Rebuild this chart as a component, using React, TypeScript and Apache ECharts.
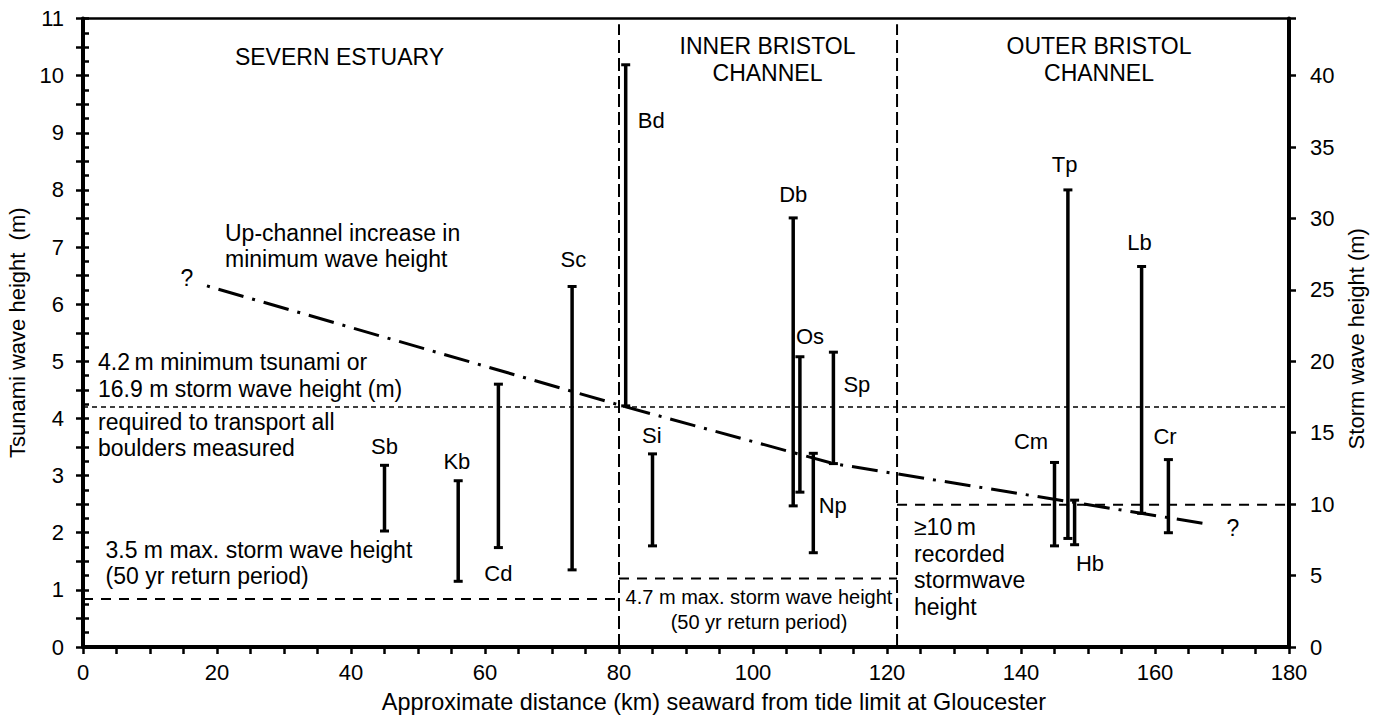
import React, { useEffect, useRef } from "react";
import * as echarts from "echarts";

// ---- data -------------------------------------------------------------
const siteNames = ["Sb", "Kb", "Cd", "Sc", "Bd", "Si", "Db", "Os", "Np", "Sp", "Cm", "Tp", "Hb", "Lb", "Cr"];
const siteDistanceKm = [45, 56, 62, 73, 81, 85, 106, 107, 109, 112, 145, 147, 148, 158, 162];
const siteMinWave = [2.03, 1.15, 1.74, 1.35, 4.22, 1.77, 2.47, 2.71, 1.65, 3.21, 1.77, 1.9, 1.79, 2.34, 2.0];
const siteMaxWave = [3.18, 2.91, 4.6, 6.31, 10.19, 3.38, 7.51, 5.08, 3.39, 5.16, 3.23, 8.0, 2.57, 6.66, 3.28];
const labelDistanceKm = [45, 55.8, 62, 73.2, 84.8, 84.9, 106, 108.5, 111.9, 115.5, 141.5, 146.5, 150.3, 157.7, 161.5];
const labelHeight = [3.51, 3.24, 1.29, 6.78, 9.21, 3.71, 7.92, 5.44, 2.47, 4.6, 3.6, 8.45, 1.46, 7.08, 3.69];

const trendDistanceKm = [18.5, 80.5, 112, 168];
const trendHeight = [6.32, 4.22, 3.21, 2.15];

const tsunamiThreshold = 4.2;
const stormLineStart = [0, 80, 121.5];
const stormLineEnd = [80, 121.5, 180];
const stormLineHeight = [0.84, 1.2, 2.49];
const regionBoundaryKm = [80, 121.5];
const regionBoundaryTop = 10.9;

const FONT = '"Liberation Sans", Arial, Helvetica, sans-serif';
const BLACK = "#000";

export default function App() {
  const ref = useRef<HTMLDivElement>(null);

  useEffect(() => {
    if (!ref.current) return;
    const chart = echarts.init(ref.current, undefined, { renderer: "svg" });

    const errorBarData = siteNames.map((n, i) => [siteDistanceKm[i], siteMinWave[i], siteMaxWave[i]]);
    const labelData = siteNames.map((n, i) => [labelDistanceKm[i], labelHeight[i], n]);

    const stormSeries = stormLineHeight.map((h, i) => ({
      type: "line",
      silent: true,
      symbol: "none",
      data: [
        [stormLineStart[i], h],
        [stormLineEnd[i], h],
      ],
      lineStyle: { color: BLACK, width: 2, type: [10, 8] },
      z: 3,
    }));

    const boundarySeries = regionBoundaryKm.map((x) => ({
      type: "line",
      silent: true,
      symbol: "none",
      data: [
        [x, 0],
        [x, regionBoundaryTop],
      ],
      lineStyle: { color: BLACK, width: 2, type: [13, 5] },
      z: 3,
    }));

    const textStyleBase = { fontFamily: FONT, fill: BLACK, fontSize: 23 };
    const tickStyle = { color: BLACK, width: 2.5 };

    const option: any = {
      animation: false,
      textStyle: { fontFamily: FONT, color: BLACK },
      grid: { left: 83, right: 88, top: 18.5, bottom: 73, outerBoundsMode: "none" },
      xAxis: [
        {
          type: "value",
          min: 0,
          max: 180,
          interval: 20,
          position: "bottom",
          axisLine: { show: true, onZero: false, lineStyle: { color: BLACK, width: 4 } },
          axisTick: { show: true, inside: false, length: 7, lineStyle: tickStyle },
          minorTick: { show: true, splitNumber: 4, length: 7, lineStyle: tickStyle },
          axisLabel: { fontSize: 22, color: BLACK, margin: 14, fontFamily: FONT },
          splitLine: { show: false },
          name: "Approximate distance (km) seaward from tide limit at Gloucester",
          nameLocation: "middle",
          nameGap: 43,
          nameTextStyle: { fontSize: 23.4, color: BLACK, fontFamily: FONT, padding: [0, 0, 0, 56] },
        },
        {
          type: "value",
          min: 0,
          max: 180,
          position: "top",
          axisLine: { show: true, onZero: false, lineStyle: { color: BLACK, width: 2.7 } },
          axisTick: { show: false },
          axisLabel: { show: false },
          splitLine: { show: false },
        },
      ],
      yAxis: [
        {
          type: "value",
          min: 0,
          max: 11,
          interval: 1,
          position: "left",
          axisLine: { show: true, onZero: false, lineStyle: { color: BLACK, width: 4 } },
          axisTick: { show: true, inside: false, length: 7, lineStyle: tickStyle },
          minorTick: { show: true, splitNumber: 2, length: 7, lineStyle: tickStyle },
          axisLabel: { fontSize: 22, color: BLACK, margin: 19, fontFamily: FONT },
          splitLine: { show: false },
          name: "Tsunami wave height  (m)",
          nameLocation: "middle",
          nameRotate: 90,
          nameGap: 49,
          nameTextStyle: { fontSize: 22, color: BLACK, fontFamily: FONT },
        },
        {
          type: "value",
          min: 0,
          max: 44,
          interval: 5,
          position: "right",
          axisLine: { show: true, onZero: false, lineStyle: { color: BLACK, width: 4 } },
          axisTick: { show: true, inside: false, length: 7, lineStyle: tickStyle },
          axisLabel: {
            fontSize: 22,
            color: BLACK,
            margin: 21,
            fontFamily: FONT,
            formatter: (v: number) => (v % 5 === 0 ? String(v) : ""),
          },
          splitLine: { show: false },
          name: "Storm wave height (m)",
          nameLocation: "middle",
          nameRotate: 90,
          nameGap: 53,
          nameTextStyle: { fontSize: 22, color: BLACK, fontFamily: FONT, padding: [0, 12, 0, 0] },
        },
        {
          type: "value",
          min: 0,
          max: 44,
          interval: 1,
          position: "right",
          axisLine: { show: false },
          axisTick: { show: true, inside: false, length: 6, lineStyle: tickStyle },
          axisLabel: { show: false },
          splitLine: { show: false },
        },
      ],
      series: [
        {
          type: "line",
          silent: true,
          symbol: "none",
          data: [
            [0, tsunamiThreshold],
            [180, tsunamiThreshold],
          ],
          lineStyle: { color: BLACK, width: 1.5, type: [5, 4] },
          z: 3,
        },
        ...stormSeries,
        ...boundarySeries,
        {
          type: "line",
          silent: true,
          symbol: "none",
          data: trendDistanceKm.map((x, i) => [x, trendHeight[i]]),
          lineStyle: { color: BLACK, width: 3, type: [3, 9, 26, 9] },
          z: 4,
        },
        {
          type: "custom",
          silent: true,
          data: errorBarData,
          encode: { x: 0, y: [1, 2] },
          z: 5,
          renderItem: (params: any, api: any) => {
            const x = api.value(0);
            const lo = api.coord([x, api.value(1)]);
            const hi = api.coord([x, api.value(2)]);
            const hw = 4.5;
            const st = { stroke: BLACK, lineWidth: 3.5 };
            return {
              type: "group",
              children: [
                { type: "line", shape: { x1: lo[0], y1: lo[1], x2: hi[0], y2: hi[1] }, style: st },
                { type: "line", shape: { x1: lo[0] - hw, y1: lo[1], x2: lo[0] + hw, y2: lo[1] }, style: { stroke: BLACK, lineWidth: 3 } },
                { type: "line", shape: { x1: hi[0] - hw, y1: hi[1], x2: hi[0] + hw, y2: hi[1] }, style: { stroke: BLACK, lineWidth: 3 } },
              ],
            };
          },
        },
        {
          type: "custom",
          silent: true,
          data: labelData,
          encode: { x: 0, y: 1 },
          z: 6,
          renderItem: (params: any, api: any) => {
            const p = api.coord([api.value(0), api.value(1)]);
            const name = labelData[params.dataIndex][2] as string;
            return {
              type: "text",
              x: p[0],
              y: p[1],
              style: {
                text: name,
                fill: BLACK,
                fontSize: 22,
                fontFamily: FONT,
                align: "center",
                verticalAlign: "middle",
              },
            };
          },
        },
      ],
      graphic: [
        { type: "text", x: 339.5, y: 57, style: { ...textStyleBase, text: "SEVERN ESTUARY", align: "center", verticalAlign: "middle" } },
        { type: "text", x: 767.5, y: 59.5, style: { ...textStyleBase, text: "INNER BRISTOL\nCHANNEL", align: "center", verticalAlign: "middle", lineHeight: 27 } },
        { type: "text", x: 1099, y: 59.5, style: { ...textStyleBase, text: "OUTER BRISTOL\nCHANNEL", align: "center", verticalAlign: "middle", lineHeight: 27 } },
        { type: "text", x: 225, y: 246, style: { ...textStyleBase, text: "Up-channel increase in\nminimum wave height", align: "left", verticalAlign: "middle", lineHeight: 25.5 } },
        { type: "text", x: 187, y: 278, style: { ...textStyleBase, text: "?", align: "center", verticalAlign: "middle" } },
        { type: "text", x: 1233, y: 528, style: { ...textStyleBase, text: "?", align: "center", verticalAlign: "middle" } },
        { type: "text", x: 98, y: 375.5, style: { ...textStyleBase, text: "4.2\u2009m minimum tsunami or\n16.9 m storm wave height (m)", align: "left", verticalAlign: "middle", lineHeight: 26.6 } },
        { type: "text", x: 98, y: 435, style: { ...textStyleBase, text: "required to transport all\nboulders measured", align: "left", verticalAlign: "middle", lineHeight: 26.6 } },
        { type: "text", x: 105.5, y: 563, style: { ...textStyleBase, text: "3.5 m max. storm wave height\n(50 yr return period)", align: "left", verticalAlign: "middle", lineHeight: 25.5 } },
        { type: "text", x: 759, y: 609.5, style: { ...textStyleBase, fontSize: 20, text: "4.7 m max. storm wave height\n(50 yr return period)", align: "center", verticalAlign: "middle", lineHeight: 25 } },
        { type: "text", x: 914, y: 567, style: { ...textStyleBase, text: "\u226510\u2009m\nrecorded\nstormwave\nheight", align: "left", verticalAlign: "middle", lineHeight: 26.7 } },
      ],
    };

    chart.setOption(option);
    return () => chart.dispose();
  }, []);

  return (
    <div
      ref={ref}
      style={{ position: "fixed", left: 0, top: 0, width: 1377, height: 720, background: "#fff" }}
    />
  );
}
